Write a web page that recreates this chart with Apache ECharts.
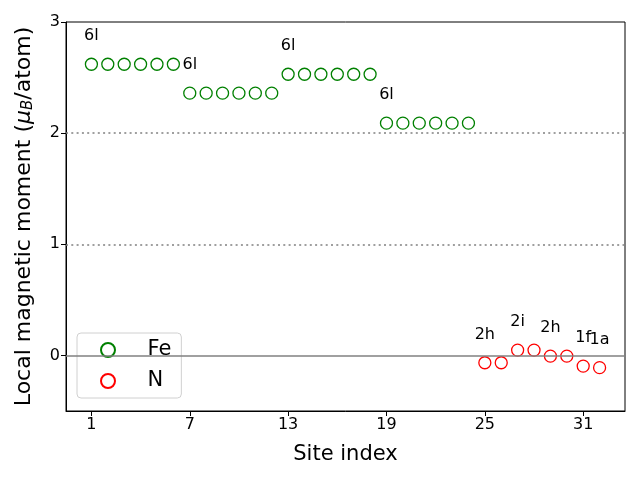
<!DOCTYPE html>
<html><head><meta charset="utf-8">
<script src="https://cdn.jsdelivr.net/npm/echarts@6/dist/echarts.min.js"></script>
<style>html,body{margin:0;padding:0;background:#fff}#c{width:640px;height:480px}</style>
</head><body><div id="c"></div>
<script>
const feSites = [1,2,3,4,5,6,7,8,9,10,11,12,13,14,15,16,17,18,19,20,21,22,23,24];
const feMoments = [2.62,2.62,2.62,2.62,2.62,2.62,2.36,2.36,2.36,2.36,2.36,2.36,2.53,2.53,2.53,2.53,2.53,2.53,2.09,2.09,2.09,2.09,2.09,2.09];
const feLabels = ['6l','','','','','','6l','','','','','','6l','','','','','','6l','','','','',''];
const nSites = [25,26,27,28,29,30,31,32];
const nMoments = [-0.066,-0.066,0.048,0.048,-0.006,-0.006,-0.096,-0.11];
const nLabels = ['2h','','2i','','2h','','1f','1a'];
const xTicks = [1,7,13,19,25,31];
const yTicks = [0,1,2,3];
const refLines = [0,1,2];

const FONT = 'DejaVu Sans';
function mk(sites, vals, labels){
  return sites.map((s,i)=>({value:[s, vals[i]], label:{show: labels[i] !== '', formatter: labels[i]}}));
}
const lbl = {position:'inside', offset:[0,-28], color:'#000', opacity:1, fontSize:16, fontFamily:FONT};
const chart = echarts.init(document.getElementById('c'), null, {renderer:'canvas'});
chart.setOption({
  animation:false,
  textStyle:{fontFamily:FONT},
  grid:{left:66, right:15, top:22, bottom:69, show:true, borderColor:'#000', borderWidth:1},
  xAxis:{type:'value', min:-0.55, max:33.55,
    name:'Site index', nameLocation:'middle', nameGap:33,
    nameTextStyle:{fontSize:21, color:'#000', fontFamily:FONT},
    axisLine:{onZero:false, lineStyle:{color:'#000'}},
    axisTick:{show:true, length:5, customValues:xTicks, lineStyle:{color:'#000'}},
    axisLabel:{customValues:xTicks, color:'#000', fontSize:16, margin:6, fontFamily:FONT},
    splitLine:{show:false}},
  yAxis:{type:'value', min:-0.5, max:3,
    name:'{a|Local magnetic moment (}{i|μ}{s|B}{a|/atom)}', nameLocation:'middle', nameGap:30,
    nameTextStyle:{fontSize:22, color:'#000', fontFamily:FONT,
      rich:{a:{fontSize:22, fontFamily:FONT, color:'#000'},
            i:{fontSize:22, fontStyle:'italic', fontFamily:FONT, color:'#000'},
            s:{fontSize:15, fontStyle:'italic', fontFamily:FONT, color:'#000', verticalAlign:'bottom', padding:[8,0,0,0]}}},
    axisLine:{show:true, onZero:false, lineStyle:{color:'#000'}},
    axisTick:{show:true, length:5, customValues:yTicks, lineStyle:{color:'#000'}},
    axisLabel:{customValues:yTicks, color:'#000', fontSize:16, margin:6, fontFamily:FONT},
    splitLine:{show:false}},
  legend:{orient:'vertical', left:77, top:333, padding:[6,10,6,23],
    itemWidth:43, itemHeight:14, itemGap:9,
    borderColor:'#d0d0d0', borderWidth:1, borderRadius:4, backgroundColor:'rgba(255,255,255,0.8)',
    textStyle:{fontSize:21, color:'#000', fontFamily:FONT, lineHeight:22, padding:[0,0,0,13]},
    data:['Fe','N']},
  series:[
    {name:'Fe', type:'scatter', symbol:'circle', symbolSize:12,
     itemStyle:{color:'rgba(0,0,0,0)', borderColor:'#008000', borderWidth:1.3, opacity:1},
     label:lbl, data:mk(feSites, feMoments, feLabels), z:3,
     markLine:{silent:true, symbol:'none', label:{show:false},
       data: refLines.map(v=>({yAxis:v, lineStyle:{color:'#808080', width:1.5, type: v===0?'solid':[2,3.3]}}))}},
    {name:'N', type:'scatter', symbol:'circle', symbolSize:12,
     itemStyle:{color:'rgba(0,0,0,0)', borderColor:'#ff0000', borderWidth:1.3, opacity:1},
     label:lbl, data:mk(nSites, nMoments, nLabels), z:3}
  ]
});
</script></body></html>
